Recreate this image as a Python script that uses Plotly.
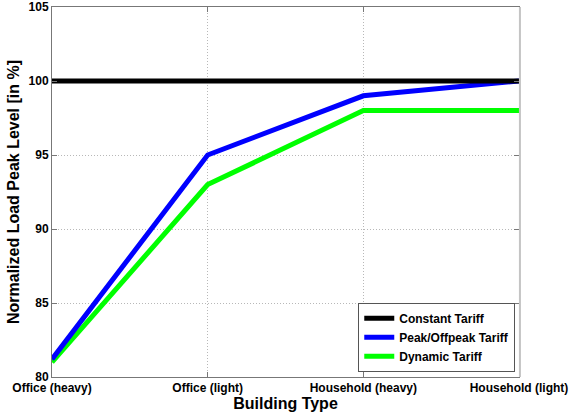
import plotly.graph_objects as go

categories = ["Office (heavy)", "Office (light)", "Household (heavy)", "Household (light)"]
constant = [100, 100, 100, 100]
peak_offpeak = [81.2, 95, 99, 100]
dynamic = [81, 93, 98, 98]

series = [("Constant Tariff", constant, "#000000"),
          ("Peak/Offpeak Tariff", peak_offpeak, "#0000ff"),
          ("Dynamic Tariff", dynamic, "#00ff00")]

fig = go.Figure()
x = list(range(len(categories)))
for name, vals, col in reversed(series):
    fig.add_trace(go.Scatter(x=x, y=vals, mode="lines", name=name,
                             line=dict(color=col, width=5), cliponaxis=False))

font = "Liberation Sans, Arial, sans-serif"
axis_common = dict(showline=True, linecolor="#777777", linewidth=1, mirror="ticks",
                   ticks="inside", ticklen=5, tickcolor="#777777",
                   showgrid=True, gridcolor="#b8b8b8", griddash="1px,2px", gridwidth=1,
                   zeroline=False, automargin=False,
                   tickfont=dict(family=font, size=12, color="black", weight="bold"))

fig.add_shape(type="line", xref="paper", yref="paper", x0=1.002, x1=1.002, y0=0, y1=1,
              line=dict(color="#c4c4c4", width=2), layer="above")

fig.update_layout(
    width=571, height=420,
    margin=dict(l=52, r=52, t=7, b=43),
    paper_bgcolor="white", plot_bgcolor="white",
    showlegend=True,
    legend=dict(x=0.992, y=0.014, xanchor="right", yanchor="bottom",
                bordercolor="#555555", borderwidth=1, bgcolor="white",
                traceorder="reversed",
                font=dict(family=font, size=12, color="black", weight="bold"),
                tracegroupgap=0, itemwidth=30),
    xaxis=dict(range=[0, 3], tickmode="array", tickvals=x, ticktext=categories,
               title=dict(text="Building Type", standoff=2,
                          font=dict(family=font, size=16, color="black", weight="bold")),
               **axis_common),
    yaxis=dict(range=[80, 105], tickmode="array", tickvals=[80, 85, 90, 95, 100, 105],
               title=dict(text="Normalized Load Peak Level [in %]", standoff=4,
                          font=dict(family=font, size=16, color="black", weight="bold")),
               **axis_common),
)

fig.write_html("out.html", config={"displayModeBar": False},
               post_script="document.body.style.margin='0';document.body.style.overflow='hidden';")
